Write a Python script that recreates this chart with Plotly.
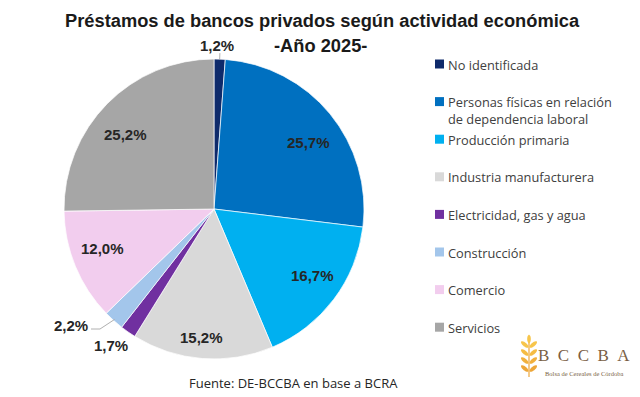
import numpy as np
import plotly.graph_objects as go

# ---------------- data ----------------
categories = [
    "No identificada",
    "Personas físicas en relación<br>de dependencia laboral",
    "Producción primaria",
    "Industria manufacturera",
    "Electricidad, gas y agua",
    "Construcción",
    "Comercio",
    "Servicios",
]
shares = [1.2, 25.7, 16.7, 15.2, 1.7, 2.2, 12.0, 25.2]

# ---------------- style ----------------
colors = ["#0E2A6B", "#0070C0", "#00B0F0", "#D9D9D9",
          "#7030A0", "#A3C6EB", "#F2CDEE", "#A6A6A6"]
label_radius = [1.09, 0.77, 0.79, 0.86, 1.14, 1.23, 0.79, 0.77]
label_nudge = [-1, 4, -3, 1, 2, 9, 3, -4.5]

# the page body has an 8px margin: lay out in window pixels, shift by OFF
OFF = 8
W, H = 640 - OFF, 397 - OFF
CX, CY, R = 214, 209, 150


def X(px):
    return (px - OFF) / W


def Y(py):
    return 1 - (py - OFF) / H


fig = go.Figure(go.Pie(
    labels=[c.replace("<br>", " ") for c in categories],
    values=shares,
    sort=False,
    direction="clockwise",
    rotation=0,
    textinfo="none",
    marker=dict(colors=colors, line=dict(color="white", width=0.7)),
    domain=dict(x=[X(CX - R), X(CX + R)], y=[Y(CY + R), Y(CY - R)]),
    showlegend=False,
))

annotations = []
shapes = []

LBL_FONT = dict(family="Liberation Sans, Arial", size=15, color="#262626")

# ---- slice labels ----
total = sum(shares)
cum = 0.0
mids = []
for i, v in enumerate(shares):
    mid = (cum + v / 2) / total * 360
    mids.append(mid)
    cum += v
    th = np.radians(mid + label_nudge[i])
    px = CX + label_radius[i] * R * np.sin(th)
    py = CY - label_radius[i] * R * np.cos(th)
    annotations.append(dict(
        x=X(px), y=Y(py), xref="paper", yref="paper",
        text="<b>" + f"{v:.1f}%".replace(".", ",") + "</b>", showarrow=False,
        font=LBL_FONT, xanchor="center", yanchor="middle"))

# leader for Construcción
th = np.radians(mids[5])
ex, ey = CX + 0.99 * R * np.sin(th), CY - 0.99 * R * np.cos(th)
shapes.append(dict(type="path", xref="paper", yref="paper",
                   path=f"M {X(91)},{Y(329)} L {X(100)},{Y(329)} L {X(ex)},{Y(ey)}",
                   line=dict(color="#B0B0B0", width=1)))
# tick for No identificada
th = np.radians(mids[0])
shapes.append(dict(type="line", xref="paper", yref="paper",
                   x0=X(CX + 1.0 * R * np.sin(th)), y0=Y(CY - 1.0 * R * np.cos(th)),
                   x1=X(CX + 1.04 * R * np.sin(th)), y1=Y(CY - 1.04 * R * np.cos(th)),
                   line=dict(color="#B0B0B0", width=1)))

# ---- title ----
TITLE_FONT = dict(family="Liberation Sans, Arial", size=18.3, color="#1a1a1a")
annotations.append(dict(x=X(322), y=Y(21), xref="paper", yref="paper", showarrow=False,
                        text="<b>Préstamos de bancos privados según actividad económica</b>",
                        font=TITLE_FONT, xanchor="center", yanchor="middle"))
annotations.append(dict(x=X(320), y=Y(46), xref="paper", yref="paper", showarrow=False,
                        text="<b>-Año 2025-</b>",
                        font=TITLE_FONT, xanchor="center", yanchor="middle"))

# ---- legend ----
for i, c in enumerate(categories):
    yc = 64 + 37.6 * i
    shapes.append(dict(type="rect", xref="paper", yref="paper",
                       x0=X(435), x1=X(444), y0=Y(yc + 4.5), y1=Y(yc - 4.5),
                       fillcolor=colors[i], line=dict(width=0)))
    annotations.append(dict(x=X(446), y=Y(yc - 10.5), xref="paper", yref="paper",
                            text=c, showarrow=False, align="left",
                            font=dict(family="Open Sans", size=12.8, color="#404040"),
                            xanchor="left", yanchor="top"))

# ---- footer ----
annotations.append(dict(x=X(293), y=Y(383), xref="paper", yref="paper", showarrow=False,
                        text="Fuente: DE-BCCBA en base a BCRA",
                        font=dict(family="Open Sans", size=13, color="#262626"),
                        xanchor="center", yanchor="middle"))

# ---- logo ----
annotations.append(dict(x=X(584), y=Y(355), xref="paper", yref="paper", showarrow=False,
                        text="B\u2002C\u2002C\u2002B\u2002A",
                        font=dict(family="Liberation Serif", size=17, color="#7A5F45"),
                        xanchor="center", yanchor="middle"))
annotations.append(dict(x=X(584), y=Y(373), xref="paper", yref="paper", showarrow=False,
                        text="Bolsa de Cereales de Córdoba",
                        font=dict(family="Liberation Serif", size=6.5, color="#7A5F45"),
                        xanchor="center", yanchor="middle"))


def ellipse_path(cx, cy, a, b, ang_deg):
    t = np.linspace(0, 2 * np.pi, 24)
    ang = np.radians(ang_deg)
    xs = cx + a * np.cos(t) * np.cos(ang) - b * np.sin(t) * np.sin(ang)
    ys = cy + a * np.cos(t) * np.sin(ang) + b * np.sin(t) * np.cos(ang)
    pts = [f"{X(x):.5f},{Y(y):.5f}" for x, y in zip(xs, ys)]
    return "M " + " L ".join(pts) + " Z"


stem_x = 529
shapes.append(dict(type="line", xref="paper", yref="paper",
                   x0=X(stem_x), x1=X(stem_x), y0=Y(342), y1=Y(377),
                   line=dict(color="#EDA63A", width=1.2)))
shapes.append(dict(type="path", xref="paper", yref="paper",
                   path=ellipse_path(stem_x, 339, 4.2, 1.8, 90),
                   fillcolor="#F7C54A", line=dict(width=0)))
wheat_cols = ["#F7C54A", "#F5BC43", "#F1B03D", "#EDA638"]
for k, yy in enumerate([346, 354, 362, 370]):
    for side in (-1, 1):
        ang = 220 if side < 0 else -40
        shapes.append(dict(type="path", xref="paper", yref="paper",
                           path=ellipse_path(stem_x + side * 4.3, yy - 1.5, 4.6, 1.9, ang),
                           fillcolor=wheat_cols[k], line=dict(width=0)))

fig.update_layout(
    width=W, height=H,
    margin=dict(l=0, r=0, t=0, b=0),
    paper_bgcolor="white", plot_bgcolor="white",
    annotations=annotations, shapes=shapes,
    showlegend=False,
)

fig.write_html("out.html")
